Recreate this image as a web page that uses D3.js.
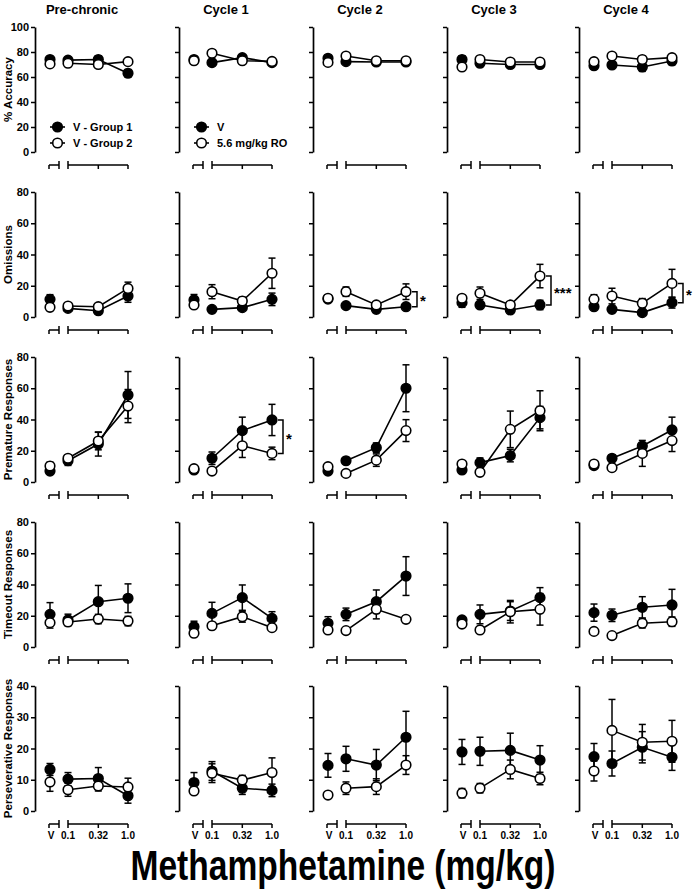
<!DOCTYPE html>
<html>
<head>
<meta charset="utf-8">
<script src="https://cdn.jsdelivr.net/npm/d3@7"></script>
<style>
  html, body { margin: 0; padding: 0; background: #fff; }
  svg { display: block; }
  text { font-family: "Liberation Sans", Arial, Helvetica, sans-serif; font-weight: bold; fill: #000; }
</style>
</head>
<body>
<svg id="chart" width="694" height="896"></svg>
<script>
// ---------------- DATA ----------------
const columns = ["Pre-chronic", "Cycle 1", "Cycle 2", "Cycle 3", "Cycle 4"];
const doseLabels = ["V", "0.1", "0.32", "1.0"];
const doses = [0.1, 0.32, 1.0];
const measures = ["% Accuracy", "Omissions", "Premature Responses", "Timeout Responses", "Perseverative Responses"];
const yMax = [100, 80, 80, 80, 40];
const yStep = [20, 20, 20, 20, 10];
const legendPre = ["V - Group 1", "V - Group 2"];
const legendCycle = ["V", "5.6 mg/kg RO"];
const xTitle = "Methamphetamine (mg/kg)";

// each entry: one column, values at [V, 0.1, 0.32, 1.0]
const accFilled    = [[74, 73.5, 74, 63], [74, 71.5, 75.5, 71.5], [75, 72.3, 72, 72], [74, 71, 70, 70], [69, 69.6, 68, 72.8]];
const accFilledSem = [[1.5, 2, 3, 3], [2, 2.5, 2, 2], [1.5, 1.5, 2, 2], [3, 2, 1.5, 2], [2, 2, 3.5, 3]];
const accOpen      = [[70.5, 71, 70, 72.3], [73, 79, 73, 72.5], [71.7, 76.8, 73, 73], [68, 74, 72, 72], [72.3, 76.8, 74, 75.5]];
const accOpenSem   = [[1.5, 2, 2.5, 1.5], [1.5, 2.5, 2, 2], [1.5, 1.5, 1.5, 1.5], [2.5, 2, 2, 2], [2.5, 2.5, 3, 2.5]];

const omFilled    = [[11.3, 5.5, 4, 13.4], [10.9, 4.9, 6, 11.3], [11.5, 7.3, 4.9, 6.6], [9.2, 7.7, 4.5, 7.7], [6.6, 4.9, 2.8, 9.2]];
const omFilledSem = [[3, 1, 1, 4], [3.5, 1, 1, 4], [2, 1, 1, 1], [3, 1, 1, 3], [1.5, 1, 1, 3.5]];
const omOpen      = [[6.2, 7, 6.6, 18.3], [7.7, 16.2, 10.2, 28], [12, 16.2, 7.7, 16.2], [12, 15.2, 7.7, 26.2], [11.3, 13.4, 8.8, 21.5]];
const omOpenSem   = [[1, 1, 1, 4], [1, 4.5, 2.5, 9.7], [1.5, 3, 1.5, 5], [1.5, 4, 1.5, 7.5], [3, 5, 3, 9]];

const prFilled    = [[7, 13.6, 24.3, 55.7], [7.7, 15.2, 32.9, 39.7], [7, 13.6, 22, 60], [7.7, 12.4, 16.9, 41.2], [10.5, 15.2, 23, 33.3]];
const prFilledSem = [[1.5, 3, 7.7, 15], [1.5, 4, 8.6, 10], [1, 1.5, 3, 15], [1.5, 3, 4, 7.2], [1.5, 2, 2, 8.2]];
const prOpen      = [[10.2, 15.2, 26.2, 48.6], [8.5, 7, 23.2, 18.3], [9.8, 5.5, 14, 32.9], [11.5, 6.2, 33.7, 45.6], [11.5, 9.2, 18.3, 26.5]];
const prOpenSem   = [[2.5, 1.5, 5.6, 10.6], [1, 1, 7.5, 4], [1.5, 1, 4, 7], [1.5, 1, 11.7, 12.8], [1, 2, 8.3, 7]];

const toFilled    = [[20.9, 17.3, 29, 31.2], [13, 21.5, 31.6, 18.3], [15.2, 20.9, 29, 45.4], [17.3, 20.9, 23, 31.6], [22, 20.3, 25.4, 26.9]];
const toFilledSem = [[7.5, 3.7, 10.4, 9.2], [3.5, 7.1, 8.1, 4.3], [4.2, 4, 7.5, 12.4], [2, 6, 6, 6.4], [5.5, 4, 6.8, 10]];
const toOpen      = [[15.6, 16, 17.9, 16.6], [8.8, 13.6, 19.4, 12.4], [10.9, 10.5, 24.1, 17.7], [14.7, 10.9, 22.6, 24.1], [10, 7.3, 15.2, 16.2]];
const toOpenSem   = [[3.5, 2, 3, 3], [1, 2, 3.5, 1], [1, 1, 6.1, 2], [1, 1, 7.2, 10.1], [1, 1, 3, 3]];

const peFilled    = [[13.3, 10.2, 10.4, 4.9], [9.1, 12.8, 7.3, 6.6], [14.6, 16.7, 14.7, 23.6], [18.9, 19.1, 19.4, 16.3], [17.4, 15.2, 20.4, 17.2]];
const peFilledSem = [[1.9, 2.1, 3.5, 2.4], [3.2, 3, 2, 2], [3.8, 4, 5, 8.3], [4, 4.5, 5.5, 4.6], [4.2, 4, 5, 4.2]];
const peOpen      = [[9.3, 6.8, 8, 7.7], [6.4, 12.1, 9.9, 12.3], [5.1, 7.3, 7.8, 14.7], [5.7, 7.3, 13.3, 10.4], [12.8, 25.8, 22, 22.3]];
const peOpenSem   = [[3, 2.1, 1.6, 2.8], [0.8, 3, 1.5, 4.7], [1, 2, 2.5, 3], [1.5, 1.5, 3, 2], [3.2, 9.9, 5.7, 6.7]];

// significance brackets at 1.0 mg/kg: measure index, column index, label
const sigMeasure = [1, 1, 1, 2];
const sigColumn  = [2, 3, 4, 1];
const sigLabel   = ["*", "***", "*", "*"];

// ---------------- LAYOUT ----------------
const filledSets = [accFilled, omFilled, prFilled, toFilled, peFilled];
const filledSems = [accFilledSem, omFilledSem, prFilledSem, toFilledSem, peFilledSem];
const openSets   = [accOpen, omOpen, prOpen, toOpen, peOpen];
const openSems   = [accOpenSem, omOpenSem, prOpenSem, toOpenSem, peOpenSem];

const axisX = [35, 179, 313, 447, 579];
const rowTop = [27, 192, 357, 522, 686];
const rowH = 125;
const R = 4.8;

const svg = d3.select("#chart");

function xPos(col, i) {
  const xs = d3.scaleLog().domain([0.1, 1]).range([axisX[col] + 33, axisX[col] + 93]);
  return i === 0 ? axisX[col] + 15 : xs(doses[i - 1]);
}

// column titles
columns.forEach((c, j) => {
  svg.append("text").attr("x", axisX[j] + 47).attr("y", 14)
    .attr("text-anchor", "middle").attr("font-size", 13).text(c);
});

measures.forEach((m, r) => {
  const y = d3.scaleLinear().domain([0, yMax[r]]).range([rowTop[r] + rowH, rowTop[r]]);
  const ticks = d3.range(0, yMax[r] + 0.001, yStep[r]);

  // y label
  svg.append("text")
    .attr("transform", `translate(12,${rowTop[r] + rowH / 2}) rotate(-90)`)
    .attr("text-anchor", "middle").attr("font-size", 11.5).text(m);

  columns.forEach((c, j) => {
    const g = svg.append("g");
    const ax = d3.axisLeft(y).tickValues(ticks).tickSize(4).tickSizeOuter(0)
      .tickFormat(j === 0 ? d3.format("d") : () => "");
    const ag = g.append("g").attr("transform", `translate(${axisX[j]},0)`).call(ax);
    ag.select(".domain").attr("stroke", "#000").attr("stroke-width", 1.7);
    ag.selectAll(".tick line").attr("stroke", "#000").attr("stroke-width", 1.5);
    ag.selectAll(".tick text").attr("font-size", 11).attr("font-family", "Liberation Sans, Arial, sans-serif")
      .attr("font-weight", "bold").attr("x", -6);

    // x axis segments
    const xa = rowTop[r] + rowH + 13;
    const vx = xPos(j, 0);
    const xg = g.append("g").attr("stroke", "#000").attr("stroke-width", 1.5).attr("fill", "none");
    xg.append("line").attr("x1", vx - 1).attr("x2", vx + 9).attr("y1", xa).attr("y2", xa);
    xg.append("line").attr("x1", vx - 1).attr("x2", vx - 1).attr("y1", xa).attr("y2", xa + 4);
    xg.append("line").attr("x1", vx + 9).attr("x2", vx + 9).attr("y1", xa - 4).attr("y2", xa + 4);
    const d0 = xPos(j, 1), d1 = xPos(j, 3);
    xg.append("line").attr("x1", d0).attr("x2", d1).attr("y1", xa).attr("y2", xa);
    [1, 2, 3].forEach(i => {
      xg.append("line").attr("x1", xPos(j, i)).attr("x2", xPos(j, i))
        .attr("y1", i === 1 ? xa - 4 : xa).attr("y2", xa + 4);
    });
    if (r === measures.length - 1) {
      doseLabels.forEach((lab, i) => {
        svg.append("text").attr("x", xPos(j, i) + (i === 0 ? 1 : 0)).attr("y", xa + 15)
          .attr("text-anchor", "middle").attr("font-size", 10).text(lab);
      });
    }

    // series
    const series = [
      { vals: filledSets[r][j], sem: filledSems[r][j], fill: "#000" },
      { vals: openSets[r][j], sem: openSems[r][j], fill: "#fff" }
    ];
    // lines
    series.forEach(s => {
      const pts = [1, 2, 3].map(i => [xPos(j, i), y(s.vals[i])]);
      g.append("path").attr("d", d3.line()(pts)).attr("fill", "none")
        .attr("stroke", "#000").attr("stroke-width", 1.6);
    });
    // error bars
    series.forEach(s => {
      s.vals.forEach((v, i) => {
        const x = xPos(j, i);
        const yt = y(v + s.sem[i]), yb = y(Math.max(0, v - s.sem[i]));
        const eg = g.append("g").attr("stroke", "#000").attr("stroke-width", 1.5);
        eg.append("line").attr("x1", x).attr("x2", x).attr("y1", yt).attr("y2", yb);
        eg.append("line").attr("x1", x - 3.5).attr("x2", x + 3.5).attr("y1", yt).attr("y2", yt);
        eg.append("line").attr("x1", x - 3.5).attr("x2", x + 3.5).attr("y1", yb).attr("y2", yb);
      });
    });
    // markers
    series.forEach(s => {
      s.vals.forEach((v, i) => {
        g.append("circle").attr("cx", xPos(j, i)).attr("cy", y(v)).attr("r", R)
          .attr("fill", s.fill).attr("stroke", "#000").attr("stroke-width", 1.6);
      });
    });

    // legend (first row, first two columns)
    if (r === 0 && j < 2) {
      const labs = j === 0 ? legendPre : legendCycle;
      labs.forEach((lab, k) => {
        const ly = rowTop[r] + 100 + k * 16;
        g.append("line").attr("x1", axisX[j] + 15).attr("x2", axisX[j] + 30)
          .attr("y1", ly).attr("y2", ly).attr("stroke", "#000").attr("stroke-width", 1.6);
        g.append("circle").attr("cx", axisX[j] + 22.5).attr("cy", ly).attr("r", R)
          .attr("fill", k === 0 ? "#000" : "#fff").attr("stroke", "#000").attr("stroke-width", 1.6);
        g.append("text").attr("x", axisX[j] + 38).attr("y", ly + 4)
          .attr("font-size", 11).text(lab);
      });
    }
  });

  // significance brackets
  sigMeasure.forEach((mi, k) => {
    if (mi !== r) return;
    const j = sigColumn[k];
    const a = filledSets[r][j][3], b = openSets[r][j][3];
    const yTop = y(Math.max(a, b)), yBot = y(Math.min(a, b));
    const bx = axisX[j] + 104;
    svg.append("path")
      .attr("d", `M${bx - 5},${yTop}H${bx}V${yBot}H${bx - 5}`)
      .attr("fill", "none").attr("stroke", "#000").attr("stroke-width", 1.5);
    svg.append("text").attr("x", bx + 3).attr("y", (yTop + yBot) / 2 + 7)
      .attr("font-size", 15).text(sigLabel[k]);
  });
});

// x title
svg.append("text").attr("x", 343).attr("y", 880).attr("text-anchor", "middle")
  .attr("font-size", 42).attr("textLength", 425).attr("lengthAdjust", "spacingAndGlyphs")
  .text(xTitle);
</script>
</body>
</html>
